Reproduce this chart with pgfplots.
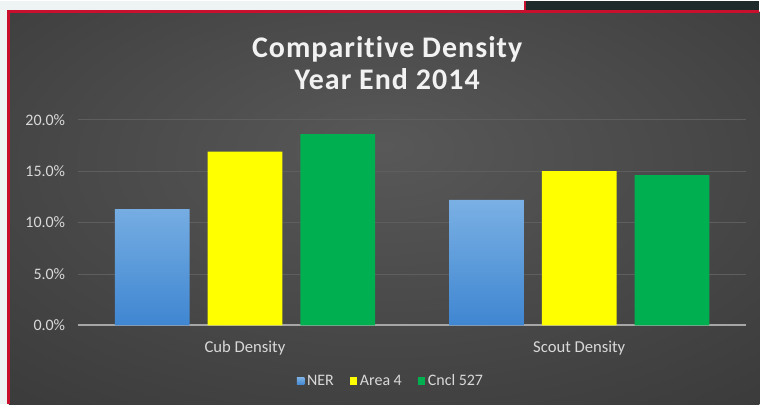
\documentclass[border=0pt]{standalone}
\usepackage{pgfplots}
\pgfplotsset{compat=1.18}
\usepackage{fontspec}
\setmainfont{Carlito}[Ligatures=NoCommon]
\newfontfamily\titlefont{Carlito}[LetterSpace=3.5, Ligatures=NoCommon]
\definecolor{bgin}{HTML}{585858}
\definecolor{bgmid}{HTML}{363636}
\definecolor{bgout}{HTML}{262626}
\definecolor{pagew}{HTML}{EEF3F3}
\definecolor{frred}{HTML}{C8102E}
\definecolor{topbox}{HTML}{1F2A2A}
\definecolor{nerTop}{HTML}{7AB0E4}
\definecolor{nerBot}{HTML}{3F86D1}
\definecolor{areaY}{HTML}{FFFF00}
\definecolor{cnclG}{HTML}{00B050}
\definecolor{gridc}{HTML}{5E5E5E}
\definecolor{axisc}{HTML}{A6A6A6}
\definecolor{txt}{HTML}{D9D9D9}
\pgfdeclareradialshading{bgshade}{\pgfpoint{0bp}{8bp}}{color(0bp)=(bgin); color(45bp)=(bgmid); color(75bp)=(bgout)}
\begin{document}
\begin{tikzpicture}[x=0.75pt,y=0.75pt]
\fill[pagew] (0,0) rectangle (761,404);
\shade[shading=bgshade] (9,0) rectangle (761,393);
\fill[topbox] (526,394) rectangle (761,404);
\draw[frred,line width=2.5pt] (8.5,0) -- (8.5,393.5) -- (761,393.5);
\draw[frred,line width=1.5pt] (526,393.5) -- (526,404);
\node[text=white!95!black, font=\titlefont\bfseries\fontsize{22.5}{24}\selectfont, anchor=base] at (388,347) {Comparitive Density};
\node[text=white!95!black, font=\titlefont\bfseries\fontsize{22.5}{24}\selectfont, anchor=base] at (388,315) {Year End 2014};
\begin{axis}[
  at={(58.5pt,59.25pt)}, anchor=south west,
  scale only axis, width=502.5pt, height=154.5pt,
  xmin=-0.5, xmax=1.5, ymin=0, ymax=20,
  xtick={0,1}, xticklabels={Cub Density, Scout Density},
  ytick={0,5,10,15,20},
  yticklabel={\pgfmathprintnumber[fixed,fixed zerofill,precision=1]{\tick}\%},
  /pgf/number format/assume math mode=true,
  major tick length=0pt,
  axis line style={draw=none},
  ymajorgrids, grid style={gridc, line width=0.6pt},
  ybar=13.5pt, bar width=56.25pt,
  ticklabel style={text=txt, font=\fontsize{12}{14}\selectfont},
  xticklabel style={yshift=-8pt, font=\fontsize{12.5}{14}\selectfont},
  yticklabel style={xshift=-6pt},
  legend style={at={(0.469,-0.272)}, anchor=center, draw=none, fill=none,
    text=txt, font=\fontsize{12}{14}\selectfont, legend columns=3,
    /tikz/every even column/.append style={column sep=10pt}},
  legend image code/.code={\path[#1,draw=none] (0pt,-2.8pt) rectangle (5.6pt,2.8pt);},
]
\draw[axisc, line width=1.5pt] (rel axis cs:0,0) -- (rel axis cs:1,0);
\addplot[draw=none, top color=nerTop, bottom color=nerBot] coordinates {(0,11.3) (1,12.2)};
\addplot[draw=none, fill=areaY] coordinates {(0,16.9) (1,15.0)};
\addplot[draw=none, fill=cnclG] coordinates {(0,18.6) (1,14.6)};
\legend{NER, Area 4, Cncl 527}
\end{axis}
\end{tikzpicture}
\end{document}
